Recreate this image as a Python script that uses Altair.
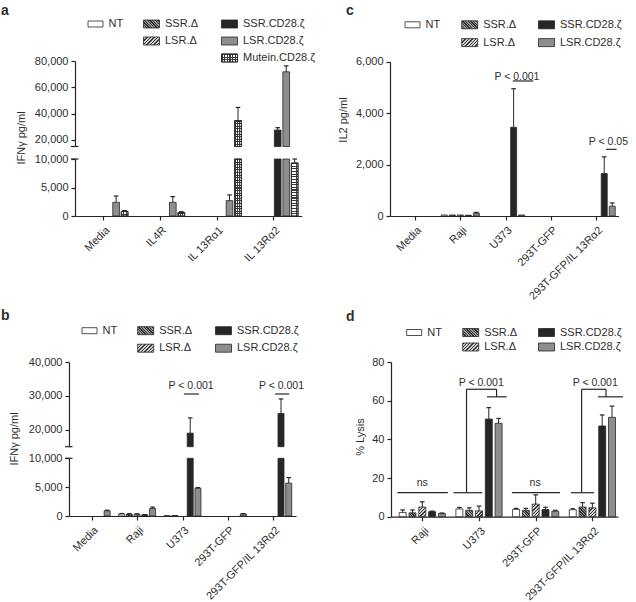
import json
import altair as alt

W, H = 636, 602
FONT = "Liberation Sans"
INK = "#262626"
TXT = "#2e2e2e"

# ---------------------------------------------------------------- data
SERIES = ["NT", "SSR.Δ", "LSR.Δ", "SSR.CD28.ζ", "LSR.CD28.ζ"]
MUTEIN = "Mutein.CD28.ζ"

# a: IFNγ (pg/ml) on plate-bound receptors
A_GROUPS = ["Media", "IL4R", "IL 13Rα1", "IL 13Rα2"]
A_MEAN = {
    "NT": [0, 0, 0, 0],
    "SSR.Δ": [0, 0, 0, 0],
    "LSR.Δ": [0, 0, 0, 0],
    "SSR.CD28.ζ": [0, 0, 0, 27500],
    "LSR.CD28.ζ": [2400, 2400, 2700, 71800],
    "Mutein.CD28.ζ": [800, 600, 34700, 9300],
}
A_SD = {
    "NT": [0, 0, 0, 0],
    "SSR.Δ": [0, 0, 0, 0],
    "LSR.Δ": [0, 0, 0, 0],
    "SSR.CD28.ζ": [0, 0, 0, 1800],
    "LSR.CD28.ζ": [1100, 1000, 1000, 4500],
    "Mutein.CD28.ζ": [150, 150, 10000, 700],
}

# b: IFNγ (pg/ml) against target cells
B_GROUPS = ["Media", "Raji", "U373", "293T-GFP", "293T-GFP/IL 13Rα2"]
B_MEAN = {
    "NT": [0, 350, 60, 0, 0],
    "SSR.Δ": [0, 300, 80, 0, 0],
    "LSR.Δ": [0, 300, 0, 0, 0],
    "SSR.CD28.ζ": [0, 200, 19000, 0, 24800],
    "LSR.CD28.ζ": [900, 1300, 4800, 350, 5700],
}
B_SD = {
    "NT": [0, 80, 0, 0, 0],
    "SSR.Δ": [0, 100, 0, 0, 0],
    "LSR.Δ": [0, 80, 0, 0, 0],
    "SSR.CD28.ζ": [0, 40, 4500, 0, 4300],
    "LSR.CD28.ζ": [100, 250, 120, 60, 950],
}

# c: IL2 (pg/ml) against target cells
C_GROUPS = ["Media", "Raji", "U373", "293T-GFP", "293T-GFP/IL 13Rα2"]
C_MEAN = {
    "NT": [0, 40, 0, 0, 0],
    "SSR.Δ": [0, 40, 0, 0, 0],
    "LSR.Δ": [0, 40, 0, 0, 0],
    "SSR.CD28.ζ": [0, 30, 3450, 0, 1650],
    "LSR.CD28.ζ": [0, 110, 40, 0, 380],
}
C_SD = {
    "NT": [0, 0, 0, 0, 0],
    "SSR.Δ": [0, 0, 0, 0, 0],
    "LSR.Δ": [0, 0, 0, 0, 0],
    "SSR.CD28.ζ": [0, 0, 1500, 0, 650],
    "LSR.CD28.ζ": [0, 30, 0, 0, 130],
}

# d: % lysis
D_GROUPS = ["Raji", "U373", "293T-GFP", "293T-GFP/IL 13Rα2"]
D_MEAN = {
    "NT": [2.2, 4.0, 3.8, 3.6],
    "SSR.Δ": [2.0, 3.3, 3.3, 5.0],
    "LSR.Δ": [5.0, 3.0, 6.5, 4.6],
    "SSR.CD28.ζ": [2.6, 50.5, 3.7, 46.9],
    "LSR.CD28.ζ": [1.6, 48.3, 2.8, 51.4],
}
D_SD = {
    "NT": [1.3, 0.8, 0.5, 0.5],
    "SSR.Δ": [1.5, 1.3, 1.0, 2.3],
    "LSR.Δ": [2.7, 2.5, 4.8, 2.4],
    "SSR.CD28.ζ": [0.3, 5.9, 1.2, 5.7],
    "LSR.CD28.ζ": [0.3, 2.5, 0.5, 5.8],
}

# significance annotations (group-index units, data units)
B_SIG_TEXT = [("P < 0.001", 2.19, 31950), ("P < 0.001", 4.18, 31950)]
B_SIG_LINES = [(2.03, 30560, 2.36, 30560), (4.04, 30560, 4.35, 30560)]
C_SIG_TEXT = [("P < 0.001", 2.25, 5290), ("P < 0.05", 4.27, 2760)]
C_SIG_LINES = [(2.16, 5250, 2.61, 5250), (4.22, 2593, 4.45, 2593)]
D_SIG_TEXT = [("ns", 0.0, 16.0), ("P < 0.001", 1.04, 67.6),
              ("ns", 1.99, 16.0), ("P < 0.001", 3.05, 67.6)]
D_SIG_LINES = [
    (-0.44, 12.4, 0.45, 12.4),
    (0.55, 12.4, 1.06, 12.4), (0.78, 12.4, 0.78, 65.9), (0.78, 65.9, 1.31, 65.9),
    (1.31, 65.9, 1.31, 62.0), (1.14, 62.0, 1.49, 62.0),
    (1.58, 12.4, 2.43, 12.4),
    (2.62, 12.4, 3.03, 12.4), (2.81, 12.4, 2.81, 65.9), (2.81, 65.9, 3.24, 65.9),
    (3.24, 65.9, 3.24, 62.0), (3.10, 62.0, 3.54, 62.0),
]

# ---------------------------------------------------------------- layout
PANELS = [
    dict(key="a", groups=A_GROUPS, series=SERIES + [MUTEIN], mean=A_MEAN, sd=A_SD,
         xd=(-0.5, 3.5), xr=(75, 301.8), step=0.15, bw=0.118, fmt=",d",
         segs=[((0, 10000), (216, 159), [0, 5000, 10000]),
               ((15000, 80000), (146.5, 61), [20000, 40000, 60000, 80000])],
         sig_text=[], sig_lines=[]),
    dict(key="b", groups=B_GROUPS, series=SERIES, mean=B_MEAN, sd=B_SD,
         xd=(-0.5, 4.5), xr=(69, 296), step=0.17, bw=0.132, fmt=",d",
         segs=[((0, 10000), (516, 458.3), [0, 5000, 10000]),
               ((15000, 40000), (446.7, 362), [20000, 30000, 40000])],
         sig_text=B_SIG_TEXT, sig_lines=B_SIG_LINES, sig_seg=1),
    dict(key="c", groups=C_GROUPS, series=SERIES, mean=C_MEAN, sd=C_SD,
         xd=(-0.552, 4.492), xr=(390, 618.5), step=0.177, bw=0.132, fmt=",d",
         segs=[((0, 6000), (216, 61.7), [0, 2000, 4000, 6000])],
         sig_text=C_SIG_TEXT, sig_lines=C_SIG_LINES, sig_seg=0),
    dict(key="d", groups=D_GROUPS, series=SERIES, mean=D_MEAN, sd=D_SD,
         xd=(-0.552, 3.45), xr=(391, 617.9), step=0.173, bw=0.123, fmt="d",
         segs=[((0, 80), (516.7, 362), [0, 20, 40, 60, 80])],
         sig_text=D_SIG_TEXT, sig_lines=D_SIG_LINES, sig_seg=0),
]

LEGEND_SLOT = {"NT": (0, 0), "SSR.Δ": (1, 0), "LSR.Δ": (1, 1),
               "SSR.CD28.ζ": (2, 0), "LSR.CD28.ζ": (2, 1), MUTEIN: (2, 2)}
LEGENDS = {
    "a": dict(cols=(88, 143.5, 221.5), y0=24.0, dy=17.0),
    "b": dict(cols=(82, 137.7, 215.5), y0=330.7, dy=17.5),
    "c": dict(cols=(405, 461.7, 538.5), y0=24.8, dy=17.8),
    "d": dict(cols=(406.7, 462.7, 538.5), y0=332.5, dy=14.5),
}

Y_TITLES = [("IFNγ pg/ml", 21.5, 138), ("IFNγ pg/ml", 14.5, 439),
            ("IL2 pg/ml", 343.5, 120), ("% Lysis", 361, 437)]
LETTERS = [("a", 1, 15), ("b", 1, 320), ("c", 346, 15), ("d", 346, 321)]


# ---------------------------------------------------------------- fills
def band_stops(n, dark, light, frac):
    stops = []
    for i in range(n):
        a, b, c = i / n, (i + frac) / n, (i + 1) / n
        stops += [{"offset": a, "color": dark}, {"offset": b, "color": dark},
                  {"offset": b, "color": light}, {"offset": c, "color": light}]
    return stops


def hatch(w, h, period, dark, light, frac, slope):
    """Diagonal hatching as a linear gradient in bounding-box units."""
    w, h = max(w, 1.0), max(h, 1.0)
    k = (w + h) / (w * w + h * h)
    if slope == "/":
        x1, y1, x2, y2 = 0, 0, w * k, h * k
    else:
        x1, y1, x2, y2 = 0, 1, w * k, 1 - h * k
    n = max(1, round((w + h) / period))
    return {"gradient": "linear", "x1": x1, "y1": y1, "x2": x2, "y2": y2,
            "stops": band_stops(n, dark, light, frac)}


def grid(w, h):
    period = 2.6
    rows = {"gradient": "linear", "x1": 0, "y1": 0, "x2": 1e-6, "y2": 1,
            "stops": band_stops(max(1, round(h / period)), "#3a3a3a", "#ffffff", 0.4)}
    cols = {"gradient": "linear", "x1": 0, "y1": 0, "x2": 1, "y2": 0,
            "stops": band_stops(max(1, round(w / period)), "#3a3a3a",
                                "rgba(255,255,255,0)", 0.4)}
    return rows, cols


def series_fill(s, w, h):
    if s == "NT":
        return "#ffffff", None
    if s == "SSR.Δ":
        return hatch(w, h, 2.6, "#2e2e2e", "#9c9c9c", 0.5, "\\"), None
    if s == "LSR.Δ":
        return hatch(w, h, 3.4, "#3a3a3a", "#d0d0d0", 0.42, "/"), None
    if s == "SSR.CD28.ζ":
        return "#262626", None
    if s == "LSR.CD28.ζ":
        return "#8e8e8e", None
    return grid(w, h)


# ---------------------------------------------------------------- builders
def y_axis(p, ticks, x0):
    return alt.Axis(orient="left", offset=-x0, values=ticks, format=p["fmt"],
                    grid=False, title=None, domainColor=INK, domainWidth=1.2,
                    tickColor=INK, tickWidth=1.2, tickSize=4, labelPadding=3,
                    labelFont=FONT, labelFontSize=11, labelColor=TXT,
                    labelOverlap=False, labelFlush=False)


def x_axis(p, y_base):
    names = json.dumps(p["groups"], ensure_ascii=False)
    return alt.Axis(orient="bottom", offset=-(H - y_base),
                    values=list(range(len(p["groups"]))),
                    labelExpr=f"{names}[datum.value]", labelAngle=-45,
                    labelAlign="right", labelBaseline="top", labelPadding=4,
                    labelFont=FONT, labelFontSize=11, labelColor=TXT,
                    labelOverlap=False, labelFlush=False, grid=False, title=None,
                    domainColor=INK, domainWidth=1.2, tickColor=INK,
                    tickWidth=1.2, tickSize=4)


def panel_layers(p):
    out = []
    xs = alt.Scale(domain=list(p["xd"]), range=list(p["xr"]), nice=False, zero=False)
    ppx = (p["xr"][1] - p["xr"][0]) / (p["xd"][1] - p["xd"][0])
    x0 = p["xr"][0]
    n_ser = len(p["series"])
    cap = 2.3 / ppx
    for si, ((d0, d1), (r0, r1), ticks) in enumerate(p["segs"]):
        ys = alt.Scale(domain=[d0, d1], range=[r0, r1], nice=False, zero=False)
        ppy = (r0 - r1) / (d1 - d0)
        rects, overs, errs = [], [], []
        for gi in range(len(p["groups"])):
            for k, s in enumerate(p["series"]):
                m, e = p["mean"][s][gi], p["sd"][s][gi]
                if m <= d0:
                    continue
                top = min(m, d1)
                xc = gi + (k - (n_ser - 1) / 2) * p["step"]
                f1, f2 = series_fill(s, p["bw"] * ppx, (top - d0) * ppy)
                row = dict(x=xc - p["bw"] / 2, x2=xc + p["bw"] / 2, y=d0, y2=top)
                rects.append(dict(row, fill=f1))
                if f2 is not None:
                    overs.append(dict(row, fill=f2))
                if e > 0 and m <= d1:
                    errs.append(dict(xc=xc, lo=m, hi=min(m + e, d1),
                                     c1=xc - cap, c2=xc + cap))
        xaxis = x_axis(p, r0) if si == 0 else None
        out.append(alt.Chart(alt.Data(values=rects)).mark_rect(
            stroke=INK, strokeWidth=0.8).encode(
            x=alt.X("x:Q", scale=xs, axis=xaxis), x2="x2",
            y=alt.Y("y:Q", scale=ys, axis=y_axis(p, ticks, x0)), y2="y2",
            fill=alt.Fill("fill:N", scale=None, legend=None)))
        if overs:
            out.append(alt.Chart(alt.Data(values=overs)).mark_rect(
                stroke=INK, strokeWidth=0.8).encode(
                x=alt.X("x:Q", scale=xs, axis=None), x2="x2",
                y=alt.Y("y:Q", scale=ys, axis=None), y2="y2",
                fill=alt.Fill("fill:N", scale=None, legend=None)))
        if errs:
            ed = alt.Data(values=errs)
            out.append(alt.Chart(ed).mark_rule(color=INK, strokeWidth=1).encode(
                x=alt.X("xc:Q", scale=xs, axis=None),
                y=alt.Y("lo:Q", scale=ys, axis=None), y2="hi"))
            out.append(alt.Chart(ed).mark_rule(color=INK, strokeWidth=1.2).encode(
                x=alt.X("c1:Q", scale=xs, axis=None), x2="c2",
                y=alt.Y("hi:Q", scale=ys, axis=None)))
        if len(p["segs"]) > 1:
            brk = [{"v": d1 if si == 0 else d0}]
            out.append(alt.Chart(alt.Data(values=brk)).mark_rule(
                color=INK, strokeWidth=1.2).encode(
                x=alt.value(x0 - 4), x2=alt.value(x0 + 3.5),
                y=alt.Y("v:Q", scale=ys, axis=None)))
        if p.get("sig_seg") == si and p["sig_lines"]:
            sl = [dict(a=a, b=b, c=c, d=d) for a, b, c, d in p["sig_lines"]]
            out.append(alt.Chart(alt.Data(values=sl)).mark_rule(
                color=INK, strokeWidth=1.2).encode(
                x=alt.X("a:Q", scale=xs, axis=None), x2="c",
                y=alt.Y("b:Q", scale=ys, axis=None), y2="d"))
            st = [dict(t=t, gx=gx, gy=gy) for t, gx, gy in p["sig_text"]]
            out.append(alt.Chart(alt.Data(values=st)).mark_text(
                font=FONT, fontSize=10.5, color=TXT, align="center",
                baseline="alphabetic").encode(
                x=alt.X("gx:Q", scale=xs, axis=None),
                y=alt.Y("gy:Q", scale=ys, axis=None), text="t:N"))
    return out


def legend_layers(p):
    lg = LEGENDS[p["key"]]
    boxes, overs, labels = [], [], []
    for s in p["series"]:
        col, row = LEGEND_SLOT[s]
        bw, bh = (15, 6) if col == 0 else (16, 8)
        bx = lg["cols"][col]
        cy = lg["y0"] + row * lg["dy"]
        f1, f2 = series_fill(s, bw, bh)
        r = dict(px=bx, px2=bx + bw, py=cy - bh / 2, py2=cy + bh / 2)
        boxes.append(dict(r, fill=f1))
        if f2 is not None:
            overs.append(dict(r, fill=f2))
        labels.append(dict(t=s, px=bx + bw + 5.5, py=cy))

    def rect_layer(rows):
        return alt.Chart(alt.Data(values=rows)).mark_rect(
            stroke=INK, strokeWidth=0.8).encode(
            x=alt.X("px:Q", scale=None, axis=None), x2="px2",
            y=alt.Y("py:Q", scale=None, axis=None), y2="py2",
            fill=alt.Fill("fill:N", scale=None, legend=None))

    out = [rect_layer(boxes)]
    if overs:
        out.append(rect_layer(overs))
    out.append(alt.Chart(alt.Data(values=labels)).mark_text(
        font=FONT, fontSize=11, color=TXT, align="left", baseline="middle").encode(
        x=alt.X("px:Q", scale=None, axis=None),
        y=alt.Y("py:Q", scale=None, axis=None), text="t:N"))
    return out


def text_layer(rows, size, weight="normal", angle=0):
    data = [dict(t=t, px=x, py=y) for t, x, y in rows]
    return alt.Chart(alt.Data(values=data)).mark_text(
        font=FONT, fontSize=size, fontWeight=weight, angle=angle, color=TXT,
        align="center" if angle else "left",
        baseline="middle" if angle else "alphabetic").encode(
        x=alt.X("px:Q", scale=None, axis=None),
        y=alt.Y("py:Q", scale=None, axis=None), text="t:N")


layers = []
for p in PANELS:
    layers += panel_layers(p)
    layers += legend_layers(p)
layers.append(text_layer(Y_TITLES, 11, angle=270))
layers.append(text_layer(LETTERS, 14, weight="bold"))

chart = alt.layer(*layers).resolve_scale(
    x="independent", y="independent"
).resolve_axis(
    x="independent", y="independent"
).properties(
    width=W, height=H, padding=0, autosize=alt.AutoSizeParams(type="none")
).configure_view(stroke=None)

chart.save("out.html", embed_options={"renderer": "svg", "actions": False})
